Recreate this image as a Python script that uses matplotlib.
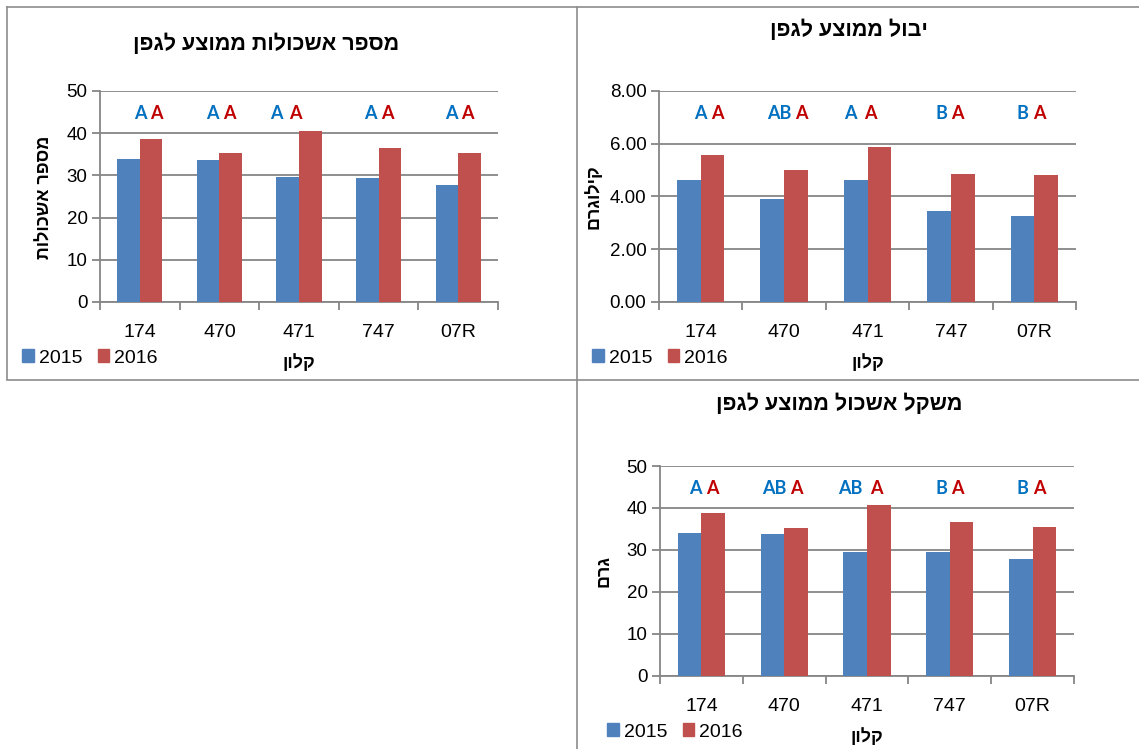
import matplotlib
matplotlib.use("Agg")
import matplotlib.pyplot as plt
from matplotlib.patches import Patch
from matplotlib.lines import Line2D

# ---- data -------------------------------------------------------------
clones = ["174", "470", "471", "747", "07R"]
years = ["2015", "2016"]

clusters_2015 = [33.9, 33.6, 29.6, 29.4, 27.8]
clusters_2016 = [38.7, 35.2, 40.5, 36.6, 35.4]
clusters_sig_2015 = ["A", "A", "A", "A", "A"]
clusters_sig_2016 = ["A", "A", "A", "A", "A"]

yield_2015 = [4.62, 3.90, 4.63, 3.46, 3.25]
yield_2016 = [5.58, 5.01, 5.89, 4.85, 4.81]
yield_sig_2015 = ["A", "AB", "A", "B", "B"]
yield_sig_2016 = ["A", "A", "A", "A", "A"]

weight_2015 = [34.0, 33.7, 29.6, 29.5, 27.8]
weight_2016 = [38.8, 35.3, 40.6, 36.7, 35.5]
weight_sig_2015 = ["A", "AB", "AB", "B", "B"]
weight_sig_2016 = ["A", "A", "A", "A", "A"]

# ---- style ------------------------------------------------------------
W, H = 1139, 749
C15, C16 = "#4F81BD", "#C0504D"
L15, L16 = "#0070C0", "#C00000"
GRID = "#868686"
FRAME = "#8C8C8C"
HEB = ["Liberation Sans", "DejaVu Sans"]
LET = ["Lato", "DejaVu Sans"]

plt.rcParams["font.family"] = HEB


def rtl(s):
    """Hebrew strings are stored in logical order; draw them visually."""
    return s[::-1]


def fx(x):
    return x / W


def fy(y):
    return 1 - y / H


fig = plt.figure(figsize=(W / 100, H / 100), dpi=100)
fig.patch.set_facecolor("white")


def panel(box, v15, v16, s15, s16, off15, off16, sig_y, ymax, step, fmt,
          title, title_xy, ylabel, ylabel_xy, xlabel_y, legend_y, legend_x):
    l, t, r, b = box
    ax = fig.add_axes([fx(l), fy(b), fx(r - l), (b - t) / H])
    x = list(range(len(clones)))
    w = 0.285
    ax.bar([i - w / 2 for i in x], v15, w, color=C15, zorder=3)
    ax.bar([i + w / 2 for i in x], v16, w, color=C16, zorder=3)
    ax.set_xlim(-0.5, len(clones) - 0.5)
    ax.set_ylim(0, ymax)
    yt = [k * step for k in range(int(round(ymax / step)) + 1)]
    ax.set_yticks(yt)
    ax.set_yticklabels([fmt.format(v) for v in yt], fontsize=13.5,
                       color="#000000")
    ax.yaxis.grid(True, color=GRID, lw=1.3, zorder=0)
    ax.set_axisbelow(True)
    ax.set_xticks([i - 0.5 for i in range(len(clones) + 1)])
    ax.set_xticklabels([])
    ax.set_xticks(x, minor=True)
    ax.set_xticklabels(clones, minor=True, fontsize=14)
    ax.tick_params(axis="x", which="major", length=6, width=1.3,
                   color=GRID, direction="out")
    ax.tick_params(axis="x", which="minor", length=0, pad=16)
    ax.tick_params(axis="y", length=6, width=1.3, color=GRID, pad=3)
    for s in ("top", "right"):
        ax.spines[s].set_visible(False)
    for s in ("left", "bottom"):
        ax.spines[s].set_color(GRID)
        ax.spines[s].set_linewidth(1.3)
    for i in x:
        ax.text(i + off15[i], sig_y, s15[i], color=L15, fontsize=13,
                fontweight="bold", family=LET, ha="center", va="center")
        ax.text(i + off16[i], sig_y, s16[i], color=L16, fontsize=13,
                fontweight="bold", family=LET, ha="center", va="center")
    fig.text(fx(title_xy[0]), fy(title_xy[1]), rtl(title), fontsize=15.5,
             fontweight="bold", ha="center", va="center")
    fig.text(fx(ylabel_xy[0]), fy(ylabel_xy[1]), rtl(ylabel), fontsize=13,
             fontweight="bold", ha="center", va="center", rotation=90)
    fig.text(fx((l + r) / 2), fy(xlabel_y), rtl("קלון"), fontsize=13,
             fontweight="bold", ha="center", va="center")
    handles = [Patch(color=C15), Patch(color=C16)]
    fig.legend(handles, years, loc="center left",
               bbox_to_anchor=(fx(legend_x), fy(legend_y)), ncol=2,
               frameon=False, fontsize=14, handlelength=0.6,
               handleheight=0.6, handletextpad=0.25, columnspacing=0.8,
               borderpad=0, borderaxespad=0)
    return ax


panel((100, 91, 498, 302), clusters_2015, clusters_2016,
      clusters_sig_2015, clusters_sig_2016,
      [0.01, -0.09, -0.29, -0.10, -0.09], [0.21, 0.12, -0.04, 0.11, 0.12],
      44.6, 50, 10, "{:.0f}",
      "מספר אשכולות ממוצע לגפן", (266, 44),
      "מספר אשכולות", (45, 197), 363, 358, 22)

panel((659, 91, 1076, 302), yield_2015, yield_2016,
      yield_sig_2015, yield_sig_2016,
      [0.0, -0.06, -0.21, -0.11, -0.14], [0.20, 0.21, 0.04, 0.08, 0.06],
      7.14, 8, 2, "{:.2f}",
      "יבול ממוצע לגפן", (849, 30),
      "קילוגרם", (594, 197), 363, 358, 592)

panel((660, 466, 1074, 676), weight_2015, weight_2016,
      weight_sig_2015, weight_sig_2016,
      [-0.07, -0.12, -0.20, -0.10, -0.12], [0.13, 0.15, 0.11, 0.09, 0.08],
      44.6, 50, 10, "{:.0f}",
      "משקל אשכול ממוצע לגפן", (839, 404),
      "גרם", (604, 571), 737, 732, 607)

# panel frames
for (x0, y0, x1, y1) in [(7, 7, W, 7), (7, 7, 7, 379), (7, 380, W, 380),
                         (576.5, 7, 576.5, H)]:
    fig.add_artist(Line2D([fx(x0), fx(x1)], [fy(y0), fy(y1)],
                          color=FRAME, lw=1.2, transform=fig.transFigure))

fig.savefig("out.png", dpi=100)
